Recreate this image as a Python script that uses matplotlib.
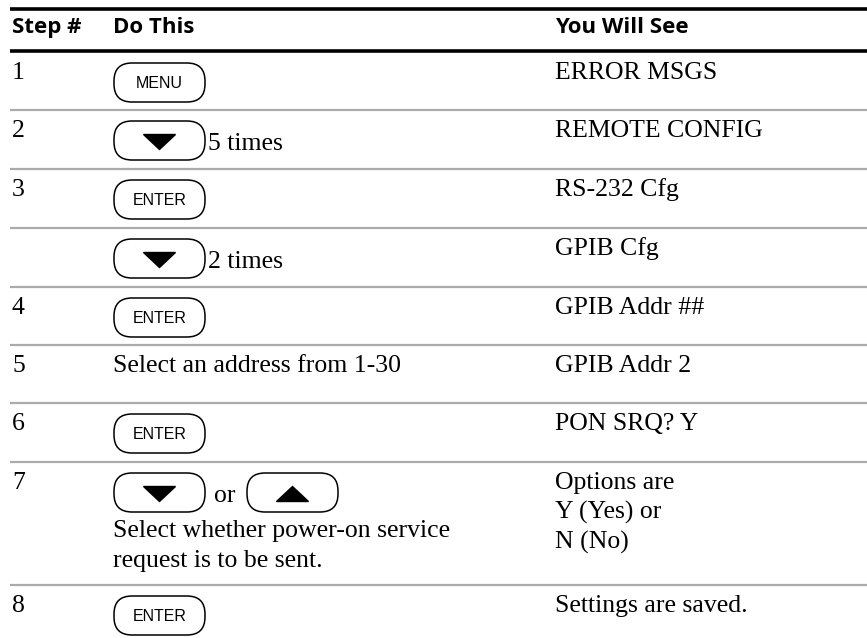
import matplotlib
matplotlib.use("Agg")
import matplotlib.pyplot as plt
from matplotlib.patches import FancyBboxPatch

# table content
headers = ["Step #", "Do This", "You Will See"]
steps = ["1", "2", "3", "", "4", "5", "6", "7", "8"]
buttons = [["MENU"], ["down"], ["ENTER"], ["down"], ["ENTER"], [], ["ENTER"], ["down", "up"], ["ENTER"]]
action_text = ["", "5 times", "", "2 times", "", "Select an address from 1-30", "",
               "Select whether power-on service\nrequest is to be sent.", ""]
display_text = ["ERROR MSGS", "REMOTE CONFIG", "RS-232 Cfg", "GPIB Cfg", "GPIB Addr ##",
                "GPIB Addr 2", "PON SRQ? Y", "Options are\nY (Yes) or\nN (No)", "Settings are saved."]

# layout (pixels)
W, H = 867, 638
row_tops = [52, 110, 169, 228, 287, 345, 403, 462, 585]
col_x = [12, 113, 555]
serif = "Liberation Serif"
sans = "Liberation Sans"
fs = 18.5
line_gap = 30

fig = plt.figure(figsize=(W / 100, H / 100), dpi=100)
ax = fig.add_axes([0, 0, 1, 1])
ax.set_xlim(0, W)
ax.set_ylim(H, 0)
ax.axis("off")

# header rules and text
ax.plot([10, W], [9, 9], color="black", lw=2.6, solid_capstyle="butt")
ax.plot([10, W], [51, 51], color="black", lw=2.6, solid_capstyle="butt")
for x, h in zip(col_x, headers):
    ax.text(x, 33, h, family="Open Sans", weight="bold", fontsize=16, va="baseline")

# row dividers
for y in row_tops[1:]:
    ax.plot([10, W], [y, y], color="#ababab", lw=1.6, solid_capstyle="butt")


def put_lines(x, base, text):
    # one text per line so the first baseline stays put
    for k, line in enumerate(text.split("\n")):
        ax.text(x, base + k * line_gap, line, family=serif, fontsize=fs, va="baseline")


def draw_button(x0, top, label, w=91, h=39):
    box = FancyBboxPatch((x0, top), w, h, boxstyle="round,pad=0,rounding_size=18",
                         fc="white", ec="black", lw=1.1)
    ax.add_patch(box)
    cx, cy = x0 + w / 2, top + h / 2
    if label == "down":
        ax.fill([cx - 16, cx + 16, cx], [cy - 6, cy - 6, cy + 9], color="black")
    elif label == "up":
        ax.fill([cx - 16, cx + 16, cx], [cy + 9, cy + 9, cy - 6], color="black")
    else:
        ax.text(cx, cy + 1, label, family=sans, fontsize=11.5, ha="center", va="center")
    return cy


for i, top in enumerate(row_tops):
    base = top + 27
    put_lines(col_x[0], base, steps[i])
    put_lines(col_x[2], base, display_text[i])
    btns = buttons[i]
    txt = action_text[i]
    if not btns:
        put_lines(col_x[1], base, txt)
        continue
    cy = draw_button(114, top + 11, btns[0])
    if len(btns) == 2:
        ax.text(214, cy + 10, "or", family=serif, fontsize=fs, va="baseline")
        draw_button(247, top + 11, btns[1])
        put_lines(col_x[1], cy + 44, txt)
    elif txt:
        put_lines(208, cy + 10, txt)

fig.savefig("out.png", dpi=100)
